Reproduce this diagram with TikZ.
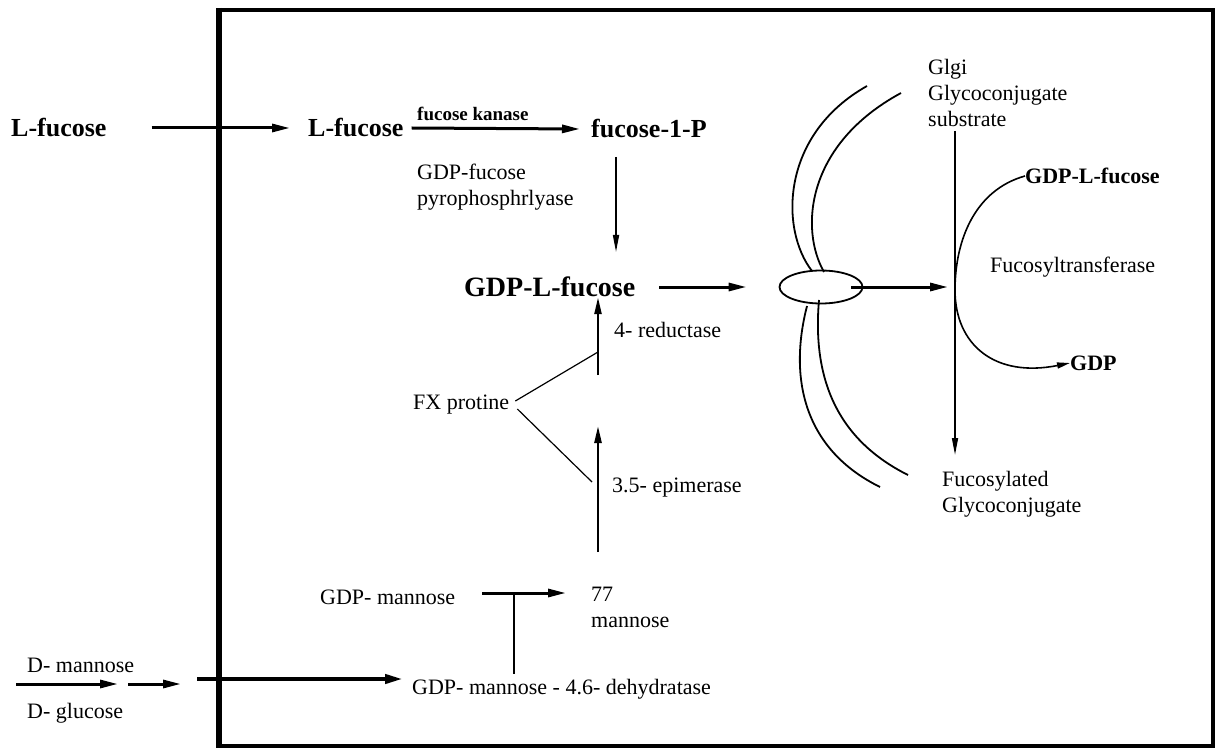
\documentclass[tikz,border=0pt]{standalone}
\usepackage{fontspec}
\setmainfont{Liberation Serif}
\usetikzlibrary{arrows.meta,positioning,shapes.geometric}

\tikzset{
    txt/.style={inner sep=0pt, anchor=west, align=left, font=\fontsize{22}{26}\selectfont},
    bigtxt/.style={txt, font=\fontsize{26}{30}\selectfont\bfseries},
    flow/.style={line width=3pt, -{Triangle[length=18pt,width=8pt]}},
    slim/.style={line width=1.6pt, -{Triangle[length=17pt,width=6pt]}},
    membrane/.style={line width=1.8pt},
}

\begin{document}
\begin{tikzpicture}[x=1pt,y=-1pt]
            % Fix the page size
            \useasboundingbox (0,0) rectangle (1220,751);

            % Draw the cell border
            \draw[line width=4pt] (219,10) rectangle (1213,746);
            \draw[line width=6pt] (219,8) -- (219,748);

            % Salvage pathway from L-fucose
            \node[bigtxt] (lfucOut) at (11,128) {L-fucose};
            \node[bigtxt] (lfucIn) at (308,128) {L-fucose};
            \node[bigtxt] (fucP) at (591,129) {fucose-1-P};
            \node[txt, font=\fontsize{19}{22}\selectfont\bfseries] (kinase) at (417,114) {fucose kanase};
            \draw[flow] ([xshift=45pt]lfucOut.east) -- ([xshift=-18pt]lfucIn.west);
            \draw[flow] ([xshift=8pt]lfucIn.east) -- ([xshift=-11pt]fucP.west);

            \node[txt] (pyro) at (417,187) {GDP-fucose\\pyrophosphrlyase};
            \node[bigtxt, font=\fontsize{28}{32}\selectfont\bfseries] (gdpFuc) at (464,287) {GDP-L-fucose};
            \coordinate (pyroTop) at (616,157);
            \coordinate (pyroEnd) at (616,252);
            \draw[slim] (pyroTop) -- (pyroEnd);

            % Golgi membrane
            \node[draw, ellipse, line width=1.8pt, minimum width=83pt, minimum height=33pt, inner sep=0pt] (golgi) at (821,287) {};
            \draw[membrane] (867,86) .. controls (780,135) and (780,230) .. (812,271);
            \draw[membrane] (901,93) .. controls (805,145) and (800,230) .. (824,272);
            \draw[membrane] (807,306) .. controls (788,380) and (805,450) .. (880,487);
            \draw[membrane] (819,300) .. controls (812,380) and (838,440) .. (908,475);
            \draw[flow] ([xshift=24pt]gdpFuc.east) -- ([xshift=-32pt]golgi.west);

            % Fucosylation in the Golgi
            \node[txt] (glgi) at (928,93) {Glgi\\Glycoconjugate\\substrate};
            \node[txt] (fucosylated) at (942,494) {Fucosylated\\Glycoconjugate};
            \coordinate (axisTop) at (955,131);
            \coordinate (axisEnd) at (955,455);
            \draw[slim] (axisTop) -- (axisEnd);
            \draw[flow, shorten >=7pt] ([xshift=30pt]golgi.center) -- (golgi.center -| axisTop);

            \node[txt, font=\fontsize{22}{26}\selectfont\bfseries] (gdpFucR) at (1025,176) {GDP-L-fucose};
            \node[txt] (fucT) at (990,267) {Fucosyltransferase};
            \node[txt, font=\fontsize{22}{26}\selectfont\bfseries] (gdp) at (1070,363) {GDP};
            \draw[line width=1.6pt, -{Triangle[length=13pt,width=6pt]}] (gdpFucR.west) .. controls (975,190) and (955,240) .. (955,290) .. controls (955,345) and (995,378) .. (gdp.west);

            % De novo pathway from GDP-mannose
            \node[txt] (fx) at (413,405) {FX protine};
            \node[txt] (reductase) at (614,330) {4- reductase};
            \node[txt] (epimerase) at (612,488) {3.5- epimerase};
            \coordinate (redBase) at (598,375);
            \coordinate (redJoin) at (598,352);
            \coordinate (epiBase) at (598,552);
            \coordinate (epiTip) at (598,426);
            \coordinate (epiJoin) at (592,482);
            \draw[line width=2.4pt, -{Triangle[length=17pt,width=7pt]}] (redBase) -- (redBase |- gdpFuc.south);
            \draw[line width=2.4pt, -{Triangle[length=17pt,width=7pt]}] (epiBase) -- (epiTip);
            \draw[line width=1.2pt] ([shift={(6pt,4pt)}]fx.east) -- (redJoin);
            \draw[line width=1.2pt] ([shift={(8pt,-4pt)}]fx.east) -- (epiJoin);

            \node[txt] (gdpMan) at (320,597) {GDP- mannose};
            \node[txt] (m77) at (591,607) {77\\mannose};
            \node[txt] (dehyd) at (412,689) {GDP- mannose - 4.6- dehydratase};
            \coordinate (manStart) at (482,593);
            \coordinate (manEnd) at (566,593);
            \coordinate (tBar) at (514,593);
            \draw[flow] (manStart) -- (manEnd);
            \draw[line width=1.5pt, shorten >=5pt] (tBar) -- (tBar |- dehyd.north);

            % Entry of D-mannose and D-glucose
            \node[txt] (dman) at (27,665) {D- mannose};
            \node[txt] (dglu) at (27,713) {D- glucose};
            \coordinate (dStart) at (16,684);
            \coordinate (dMid) at (118,684);
            \coordinate (dNext) at (128,684);
            \coordinate (dEnd) at (181,684);
            \coordinate (longStart) at (197,679);
            \coordinate (longEnd) at (403,679);
            \draw[flow] (dStart) -- (dMid);
            \draw[flow] (dNext) -- (dEnd);
            \draw[line width=4pt, -{Triangle[length=18pt,width=9pt]}] (longStart) -- (longEnd);
        \end{tikzpicture}
\end{document}
